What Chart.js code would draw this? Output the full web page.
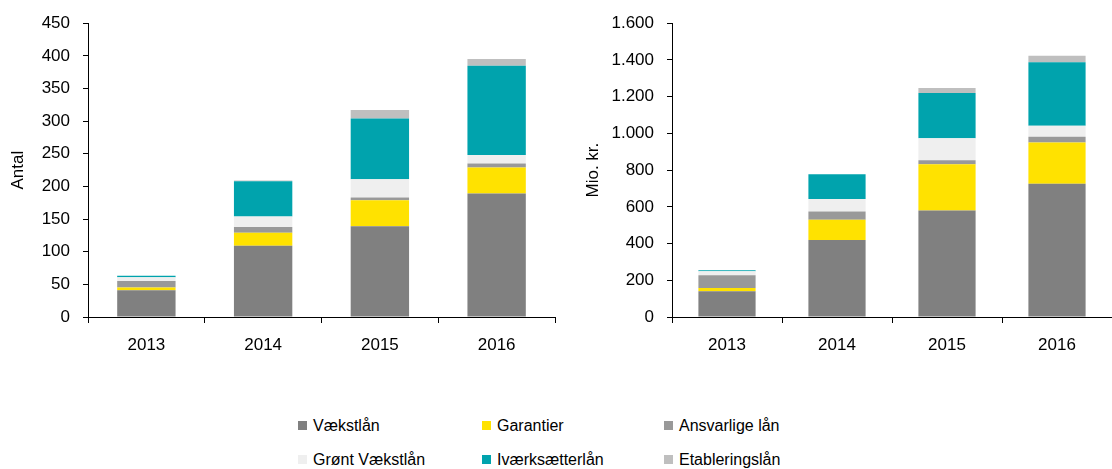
<!DOCTYPE html>
<html>
<head>
<meta charset="utf-8">
<script src="https://cdn.jsdelivr.net/npm/chart.js@4"></script>
<style>
    body { margin: 0; background: #fff; font-family: "Liberation Sans", Arial, sans-serif; }
    #wrap { position: relative; width: 1112px; height: 469px; overflow: hidden; }
    .chart-box { position: absolute; top: 0; height: 370px; }
    #left-box { left: 0; width: 560px; }
    #right-box { left: 560px; width: 552px; }
    .legend-item { position: absolute; font-size: 16px; color: #000; line-height: 18px; white-space: nowrap; }
    .legend-item span { display: inline-block; width: 9px; height: 9px; margin-right: 6px; vertical-align: 1px; }
</style>
</head>
<body>
<div id="wrap">
    <div class="chart-box" id="left-box"><canvas id="antalChart"></canvas></div>
    <div class="chart-box" id="right-box"><canvas id="mioChart"></canvas></div>
    <div id="legend"></div>
</div>
<script>
// Categories
const years = ['2013', '2014', '2015', '2016'];

// Antal (left chart)
const antalVaekstlaan = [41, 109, 139, 189];
const antalGarantier = [4, 20, 40, 40];
const antalAnsvarlige = [10, 9, 4, 6];
const antalGroent = [6, 16, 28, 13];
const antalIvaerk = [2, 54, 93, 137];
const antalEtabl = [0, 1, 13, 10];

// Mio. kr. (right chart)
const mioVaekstlaan = [140, 420, 580, 725];
const mioGarantier = [18, 110, 252, 225];
const mioAnsvarlige = [69, 45, 22, 32];
const mioGroent = [22, 67, 119, 59];
const mioIvaerk = [6, 135, 247, 346];
const mioEtabl = [0, 0, 27, 36];

const seriesNames = ['Vækstlån', 'Garantier', 'Ansvarlige lån', 'Grønt Vækstlån', 'Iværksætterlån', 'Etableringslån'];
const seriesColors = ['#808080', '#FFE200', '#999999', '#EFEFEF', '#00A3AD', '#BFBFBF'];

const tickFont = { size: 17, family: '"Liberation Sans", Arial' };

function formatDa(v) {
    return String(v).replace(/\B(?=(\d{3})+(?!\d))/g, '.');
}

function makeChart(id, seriesData, opts) {
    const ctx = document.getElementById(id).getContext('2d');
    return new Chart(ctx, {
        type: 'bar',
        data: {
            labels: years,
            datasets: seriesData.map((d, i) => ({
                label: seriesNames[i],
                data: d,
                backgroundColor: seriesColors[i],
                borderWidth: 0,
                barPercentage: opts.barPct,
                categoryPercentage: 1
            }))
        },
        options: {
            responsive: true,
            maintainAspectRatio: false,
            animation: false,
            layout: { padding: { top: 20, right: opts.padRight, left: opts.padLeft, bottom: 0 } },
            plugins: { legend: { display: false }, tooltip: { enabled: false } },
            scales: {
                x: {
                    stacked: true,
                    border: { color: '#000', width: 1 },
                    grid: { drawOnChartArea: false, drawTicks: true, tickLength: 6, color: '#000', offset: true },
                    ticks: { color: '#000', font: tickFont, padding: 12 },
                    afterFit: (scale) => { scale.height = 53; }
                },
                y: {
                    stacked: true,
                    min: 0,
                    max: opts.yMax,
                    border: { color: '#000', width: 1 },
                    grid: { drawOnChartArea: false, drawTicks: true, tickLength: 5, color: '#000' },
                    ticks: {
                        stepSize: opts.yStep,
                        color: '#000',
                        padding: 13,
                        font: tickFont,
                        callback: (v) => formatDa(v)
                    },
                    title: {
                        display: true,
                        text: opts.yTitle,
                        color: '#000',
                        font: tickFont,
                        padding: 0
                    },
                    afterFit: (scale) => { scale.width = opts.yWidth; }
                }
            }
        }
    });
}

makeChart('antalChart',
    [antalVaekstlaan, antalGarantier, antalAnsvarlige, antalGroent, antalIvaerk, antalEtabl],
    { yMax: 450, yStep: 50, yTitle: 'Antal', yWidth: 80, padLeft: 8, padRight: 5, barPct: 0.5 });
makeChart('mioChart',
    [mioVaekstlaan, mioGarantier, mioAnsvarlige, mioGroent, mioIvaerk, mioEtabl],
    { yMax: 1600, yStep: 200, yTitle: 'Mio. kr.', yWidth: 89, padLeft: 23, padRight: 0, barPct: 0.52 });

// Legend in three columns, two rows
const legendPos = [[298, 417], [482, 417], [664, 417], [298, 451], [482, 451], [664, 451]];
const legendEl = document.getElementById('legend');
seriesNames.forEach((name, i) => {
    const item = document.createElement('div');
    item.className = 'legend-item';
    item.style.left = legendPos[i][0] + 'px';
    item.style.top = legendPos[i][1] + 'px';
    item.innerHTML = `<span style="background:${seriesColors[i]}"></span>${name}`;
    legendEl.appendChild(item);
});
</script>
</body>
</html>
